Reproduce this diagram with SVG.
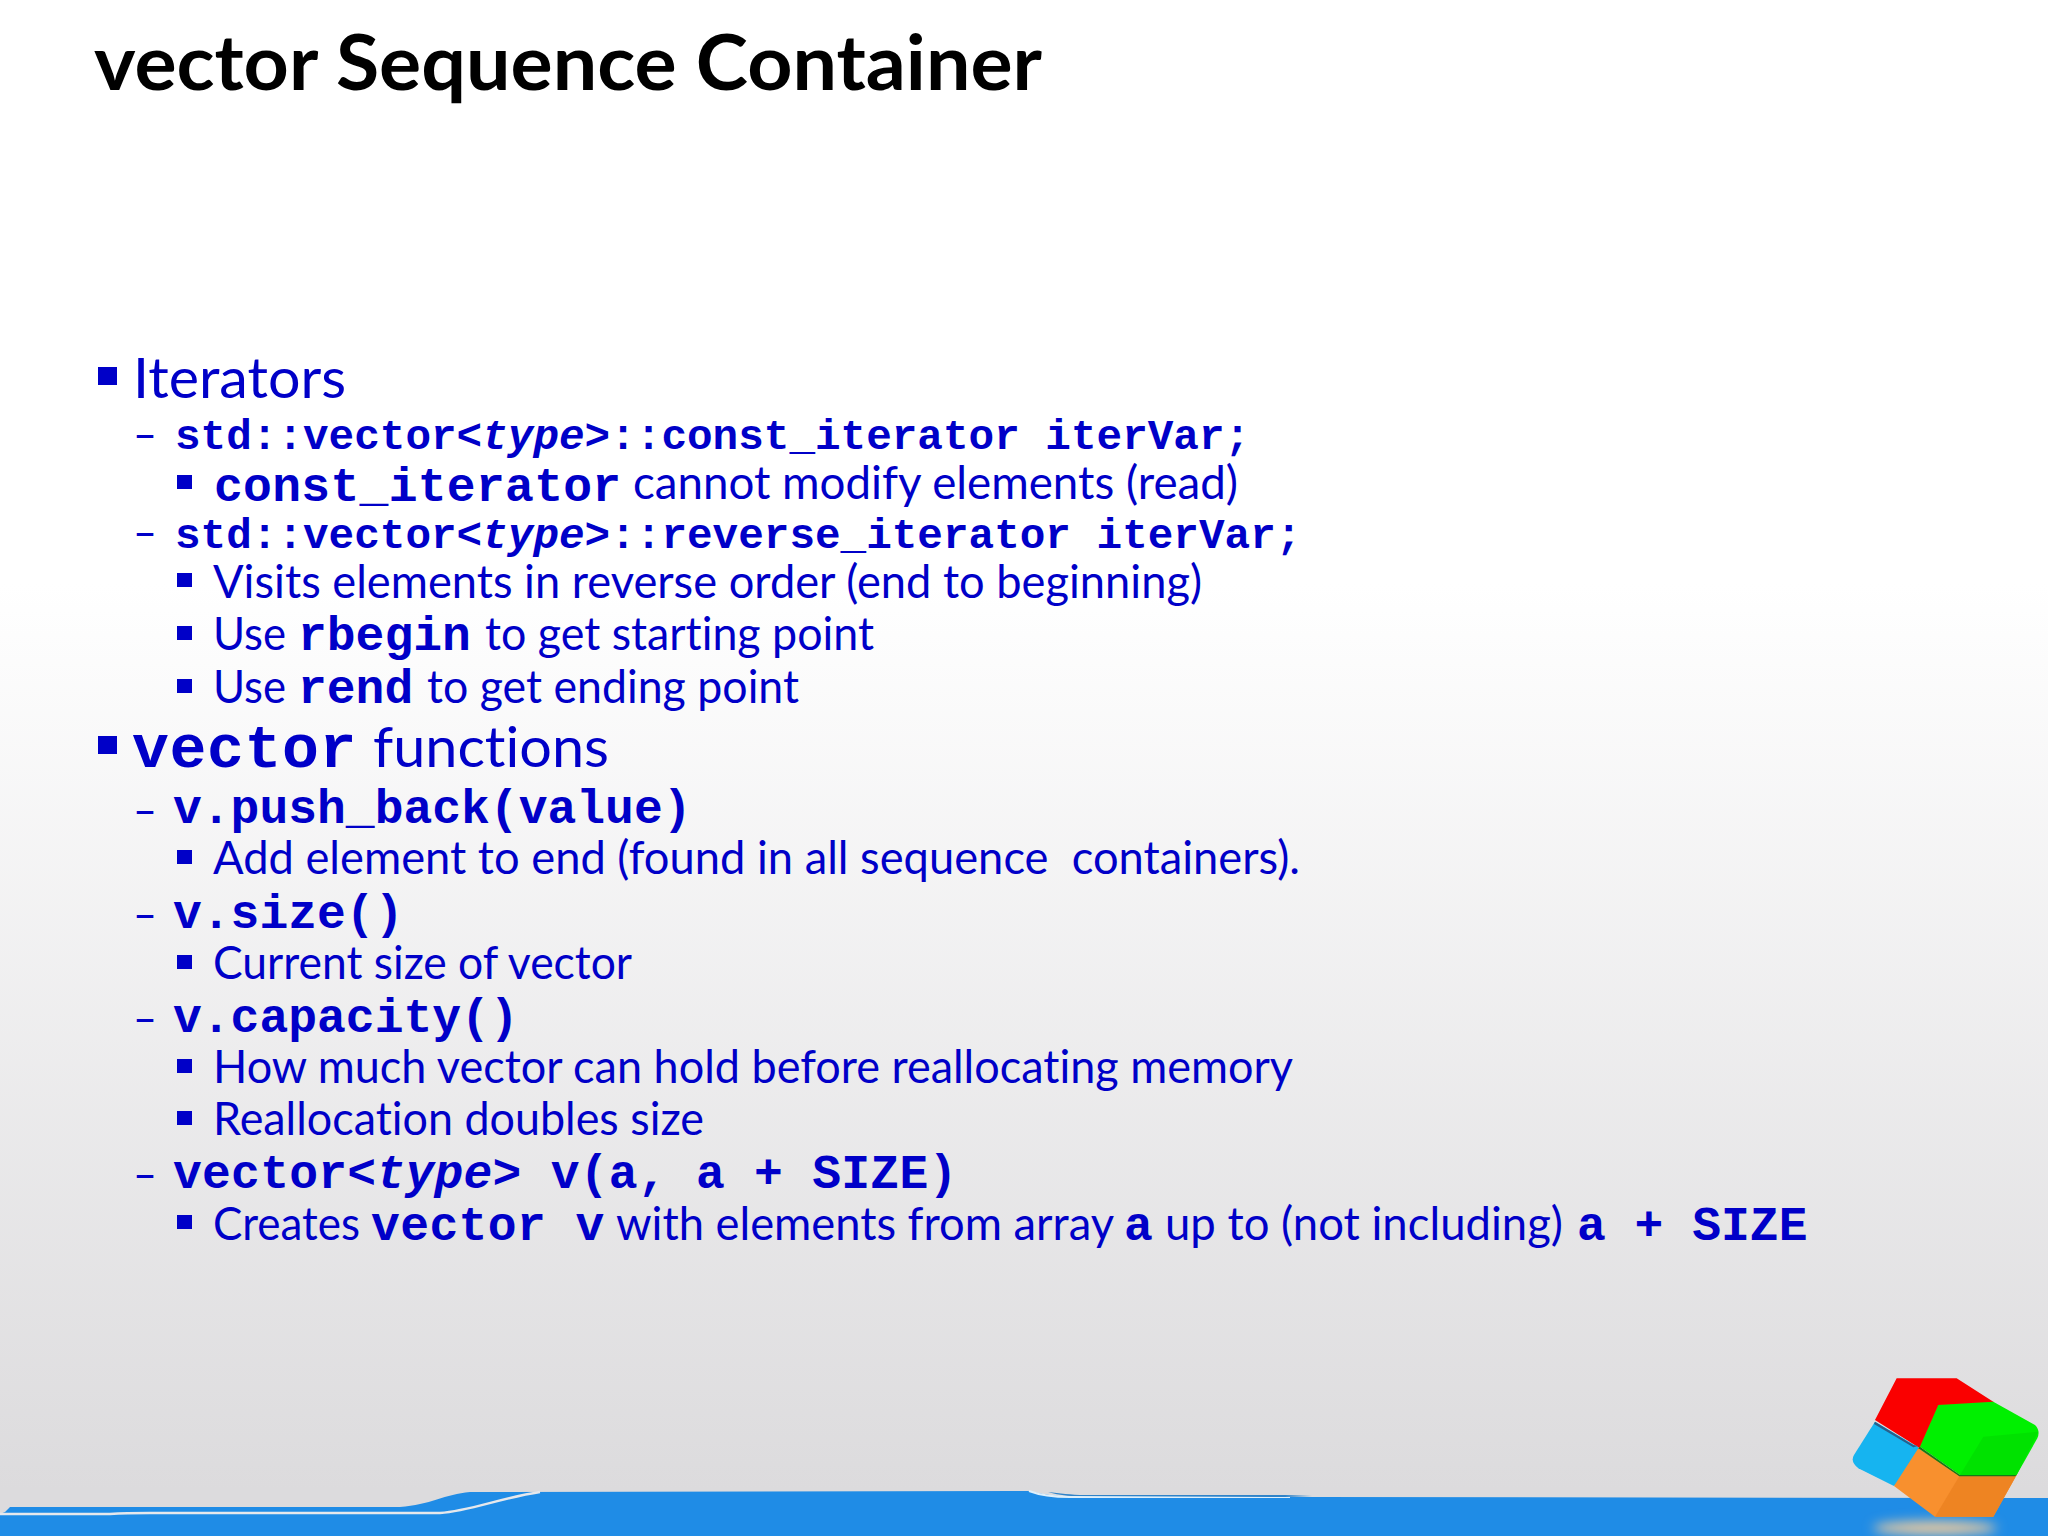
<svg xmlns="http://www.w3.org/2000/svg" width="2048" height="1536" viewBox="0 0 2048 1536">
<defs>
<linearGradient id="bg" x1="0" y1="0" x2="0" y2="1"><stop offset="0" stop-color="#ffffff"/><stop offset="0.38" stop-color="#ffffff"/><stop offset="0.97" stop-color="#dcdbdd"/><stop offset="1" stop-color="#dcdbdd"/></linearGradient>
<filter id="soft" x="-5%" y="-5%" width="110%" height="110%"><feGaussianBlur stdDeviation="0.8"/></filter>
<filter id="softer" x="-40%" y="-150%" width="180%" height="400%"><feGaussianBlur stdDeviation="6"/></filter>
</defs>
<style>
text{fill:#0000c8;white-space:pre;font-variant-ligatures:none}
.s{font-family:"Lato","Carlito","Liberation Sans",sans-serif;font-size:47px}
.l{font-family:"Lato","Carlito","Liberation Sans",sans-serif;font-size:56px}
.m{font-family:"Liberation Mono","Courier New",monospace;font-weight:700;font-size:48px}
.n{font-family:"Liberation Mono","Courier New",monospace;font-weight:700;font-size:42.67px}
.h{font-family:"Liberation Mono","Courier New",monospace;font-weight:700;font-size:61.5px;letter-spacing:.6px}
.i{font-style:italic}
.t{font-family:"Lato","Carlito","Liberation Sans",sans-serif;font-weight:700;font-size:76px;fill:#000}
.b{fill:#0000c8}
</style>
<rect id="background" width="2048" height="1536" fill="url(#bg)"/>
<g id="band">
<path d="M0 1514 L5 1512 L10 1507 L400 1507 C430 1505 445 1494 470 1492 L1029 1491 C1040 1494 1055 1496 1070 1497 L1310 1497 L2048 1498 L2048 1536 L0 1536 Z" fill="#1f8ce6"/>
<path d="M0 1514 L110 1514 C125 1513 135 1513 150 1513 L440 1513 C470 1511 500 1498 540 1492" fill="none" stroke="#e6e8ec" stroke-width="2.5"/>
<path d="M1029 1491 C1042 1496 1055 1497 1070 1497 L1290 1497" fill="none" stroke="#dff0fb" stroke-width="2"/>
<path d="M1048 1492 C1060 1493 1070 1495 1085 1495 L1285 1495 L1312 1496 L1285 1497 L1075 1496 C1065 1496 1055 1494 1048 1492 Z" fill="#2f83c9"/>
<ellipse cx="1935" cy="1528" rx="62" ry="7" fill="#e8c9a0" filter="url(#softer)"/>
</g>
<g id="cube" transform="translate(1750 1340) scale(0.3333)" filter="url(#soft)" stroke-linejoin="round">
<path d="M375 245 L510 325 L470 400 L432 438 L325 385 Q300 365 312 345 Z" fill="#14b4f0"/>
<path d="M440 115 L620 115 L730 185 L740 200 L565 210 L510 325 L375 240 Z" fill="#fa0505"/>
<path d="M375 245 L490 315 L505 318 L490 322 L372 252 Z" fill="#2a5f8a"/>
<path d="M505 325 L630 405 L800 405 L730 530 L555 530 L432 438 Z" fill="#f8902e"/>
<path d="M630 405 L800 405 L730 530 L555 530 Z" fill="#ee8424"/>
<path d="M565 195 L730 185 L855 255 Q872 272 862 295 L800 405 L630 405 L510 320 Z" fill="#06f006"/>
<path d="M700 290 L865 275 L800 405 L630 405 Z" fill="#05e205"/>
<path d="M510 320 L630 405 L800 405 L795 409 L628 409 L505 325 Z" fill="#157a15"/>
</g>
<g id="title"><text class="t" x="94" y="90" textLength="948" lengthAdjust="spacingAndGlyphs">vector Sequence Container</text></g>
<g id="bullets">
<rect class="b" x="98" y="367" width="19" height="18"/>
<rect class="b" x="98" y="736" width="19" height="18"/>
<rect class="b" x="177" y="475" width="15" height="14"/>
<rect class="b" x="177" y="573" width="15" height="14"/>
<rect class="b" x="177" y="626" width="15" height="14"/>
<rect class="b" x="177" y="679" width="15" height="14"/>
<rect class="b" x="177" y="850" width="15" height="14"/>
<rect class="b" x="177" y="955" width="15" height="14"/>
<rect class="b" x="177" y="1059" width="15" height="14"/>
<rect class="b" x="177" y="1111" width="15" height="14"/>
<rect class="b" x="177" y="1215" width="15" height="14"/>
</g>
<g id="body">
<text class="l" x="133" y="398" textLength="213" lengthAdjust="spacingAndGlyphs">Iterators</text>
<text class="s" x="133" y="450" textLength="24" lengthAdjust="spacingAndGlyphs">–</text>
<text class="n" x="175" y="449">std::vector&lt;<tspan class="i">type</tspan>&gt;::const_iterator iterVar;</text>
<text class="m" x="214" y="501" letter-spacing=".3">const_iterator</text>
<text class="s" x="633" y="499" textLength="605" lengthAdjust="spacingAndGlyphs">cannot modify elements (read)</text>
<text class="s" x="133" y="548" textLength="24" lengthAdjust="spacingAndGlyphs">–</text>
<text class="n" x="175" y="548">std::vector&lt;<tspan class="i">type</tspan>&gt;::reverse_iterator iterVar;</text>
<text class="s" x="213" y="598" textLength="989" lengthAdjust="spacingAndGlyphs">Visits elements in reverse order (end to beginning)</text>
<text class="s" x="213" y="650" textLength="73" lengthAdjust="spacingAndGlyphs">Use</text>
<text class="m" x="298" y="650">rbegin</text>
<text class="s" x="485" y="650" textLength="389" lengthAdjust="spacingAndGlyphs">to get starting point</text>
<text class="s" x="213" y="703" textLength="73" lengthAdjust="spacingAndGlyphs">Use</text>
<text class="m" x="298" y="703">rend</text>
<text class="s" x="427" y="703" textLength="372" lengthAdjust="spacingAndGlyphs">to get ending point</text>
<text class="h" x="132" y="767">vector</text>
<text class="l" x="373" y="767" textLength="236" lengthAdjust="spacingAndGlyphs">functions</text>
<text class="s" x="133" y="826" textLength="24" lengthAdjust="spacingAndGlyphs">–</text>
<text class="m" x="173" y="823">v.push_back(value)</text>
<text class="s" x="213" y="874" textLength="1087" lengthAdjust="spacingAndGlyphs">Add element to end (found in all sequence  containers).</text>
<text class="s" x="133" y="930" textLength="24" lengthAdjust="spacingAndGlyphs">–</text>
<text class="m" x="173" y="928">v.size()</text>
<text class="s" x="213" y="979" textLength="419" lengthAdjust="spacingAndGlyphs">Current size of vector</text>
<text class="s" x="133" y="1034" textLength="24" lengthAdjust="spacingAndGlyphs">–</text>
<text class="m" x="173" y="1032">v.capacity()</text>
<text class="s" x="213" y="1083" textLength="1080" lengthAdjust="spacingAndGlyphs">How much vector can hold before reallocating memory</text>
<text class="s" x="213" y="1135" textLength="491" lengthAdjust="spacingAndGlyphs">Reallocation doubles size</text>
<text class="s" x="133" y="1190" textLength="24" lengthAdjust="spacingAndGlyphs">–</text>
<text class="m" x="173" y="1188" letter-spacing=".25">vector&lt;<tspan class="i">type</tspan>&gt; v(a, a + SIZE)</text>
<text class="s" x="213" y="1240" textLength="147" lengthAdjust="spacingAndGlyphs">Creates</text>
<text class="m" x="371" y="1240" letter-spacing=".4">vector v</text>
<text class="s" x="616" y="1240" textLength="498" lengthAdjust="spacingAndGlyphs">with elements from array</text>
<text class="m" x="1124" y="1240">a</text>
<text class="s" x="1165" y="1240" textLength="398" lengthAdjust="spacingAndGlyphs">up to (not including)</text>
<text class="m" x="1577" y="1240">a + SIZE</text>
</g>
</svg>
